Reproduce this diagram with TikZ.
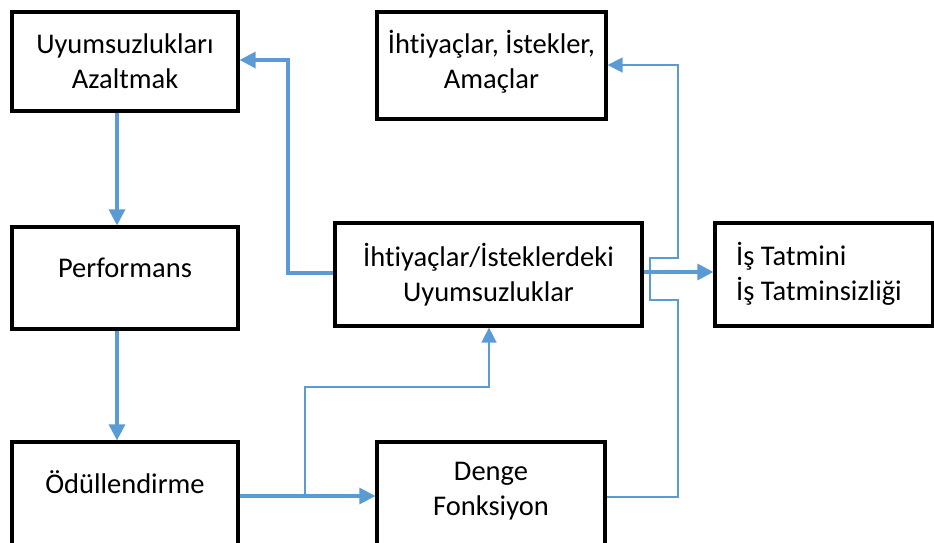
\documentclass[tikz,border=0pt]{standalone}
\usepackage{fontspec}
\setmainfont[Ligatures={NoCommon}]{Carlito}
\usetikzlibrary{arrows.meta}
\definecolor{linkblue}{HTML}{5B9BD5}
\tikzset{
  box/.style={draw=black, line width=3.2pt, rectangle, inner sep=0pt, align=center},
  txt/.style={inner sep=0pt, align=center},
  arr/.style={draw=linkblue, line width=3.2pt, -{Triangle[length=16pt,width=16pt]}},
  thinline/.style={draw=linkblue, line width=1.5pt},
  thinarr/.style={thinline, -{Triangle[length=15pt,width=15pt]}},
}
\begin{document}
\begin{tikzpicture}[x=1pt, y=-1pt, font=\fontsize{28.5}{35}\selectfont]
\clip (0,0) rectangle (934,542);
\fill[white] (0,0) rectangle (934,542);

% boxes
\node[box, minimum width=226, minimum height=99] (b1) at (125,61.5) {Uyumsuzlukları\\Azaltmak};
\node[box, minimum width=226, minimum height=102] (b2) at (125,278) {};
\node[box, minimum width=226, minimum height=118] (b3) at (125,501) {};
\node[box, minimum width=229, minimum height=107] (b4) at (491.5,65.5) {};
\node[box, minimum width=307, minimum height=103] (b5) at (488.5,274.5) {İhtiyaçlar/İsteklerdeki\\Uyumsuzluklar};
\node[box, minimum width=218, minimum height=103] (b6) at (824,274.5) {};
\node[box, minimum width=228, minimum height=118] (b7) at (491,501) {};

% labels
\node[txt] (t2) at (125,268) {Performans};
\node[txt] (t3) at (125,482) {Ödüllendirme};
\node[txt] (t4) at (491.5,62) {İhtiyaçlar, İstekler,\\Amaçlar};
\node[txt, anchor=west, align=left] (t6) at (736,274) {İş Tatmini\\İş Tatminsizliği};
\node[txt] (t7) at (491,491.5) {Denge\\Fonksiyon};

% main flow
\draw[arr] (b1.south -| 117,0) -- (b2.north -| 117,0);
\draw[arr] (b2.south -| 117,0) -- (b3.north -| 117,0);
\draw[arr] (b5.west |- 0,273) -- (288,273) |- (b1.east |- 0,60);
\draw[arr] (b3.east |- 0,496) -- (b7.west |- 0,496);
\draw[arr] (b5.east |- 0,272) -- (b6.west |- 0,272);

% feedback lines
\coordinate (j1) at (305,496);
\draw[thinarr] (j1) |- (489,387) -- (b5.south -| 489,0);
\draw[thinarr] (b7.east |- 0,497) -- (678,497) -- (678,300) -- (650,300)
  -- (650,258) -- (678,258) |- (b4.east |- 0,65);
\end{tikzpicture}
\end{document}
